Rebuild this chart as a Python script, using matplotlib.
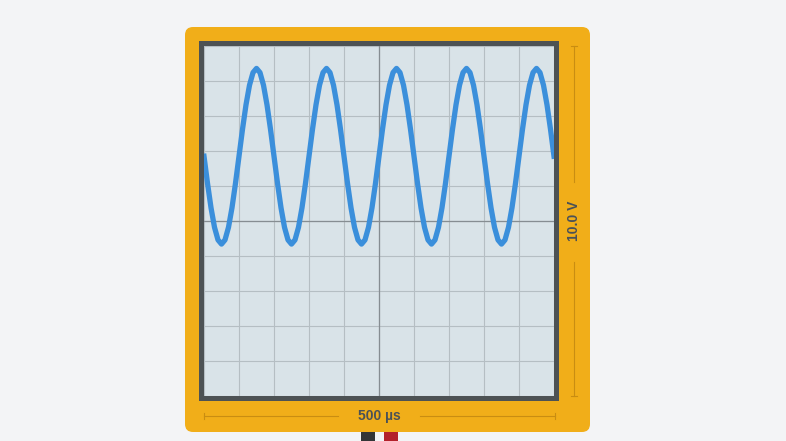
import numpy as np
import matplotlib.pyplot as plt
from matplotlib.patches import FancyBboxPatch, Rectangle

# canvas size in pixels
W, H = 786, 441

# time base / voltage span of the screen
time_span_us = 500
volt_span = 10.0
time_label = "500 µs"
volt_label = "10.0 V"

time_us = np.linspace(0, 500, 101)
volts = [
    1.85, 1.08, 0.38, -0.18, -0.54, -0.66, -0.54, -0.18, 0.38, 1.08,
    1.85, 2.62, 3.32, 3.88, 4.24, 4.36, 4.24, 3.88, 3.32, 2.62,
    1.85, 1.08, 0.38, -0.18, -0.54, -0.66, -0.54, -0.18, 0.38, 1.08,
    1.85, 2.62, 3.32, 3.88, 4.24, 4.36, 4.24, 3.88, 3.32, 2.62,
    1.85, 1.08, 0.38, -0.18, -0.54, -0.66, -0.54, -0.18, 0.38, 1.08,
    1.85, 2.62, 3.32, 3.88, 4.24, 4.36, 4.24, 3.88, 3.32, 2.62,
    1.85, 1.08, 0.38, -0.18, -0.54, -0.66, -0.54, -0.18, 0.38, 1.08,
    1.85, 2.62, 3.32, 3.88, 4.24, 4.36, 4.24, 3.88, 3.32, 2.62,
    1.85, 1.08, 0.38, -0.18, -0.54, -0.66, -0.54, -0.18, 0.38, 1.08,
    1.85, 2.62, 3.32, 3.88, 4.24, 4.36, 4.24, 3.88, 3.32, 2.62,
    1.85,
]

plt.rcParams['font.family'] = ['Liberation Sans', 'DejaVu Sans']

fig = plt.figure(figsize=(W / 100, H / 100), dpi=100)
fig.patch.set_facecolor('#f3f4f6')

# background axes in pixel units (y pointing down)
bg = fig.add_axes([0, 0, 1, 1])
bg.set_xlim(0, W)
bg.set_ylim(H, 0)
bg.axis('off')

# probes
bg.add_patch(Rectangle((361, 428), 14, 15, fc='#333537', ec='none', zorder=1))
bg.add_patch(Rectangle((384, 428), 14, 15, fc='#b3212b', ec='none', zorder=1))

# scope body
bg.add_patch(FancyBboxPatch((185, 27), 405, 405,
                            boxstyle='round,pad=0,rounding_size=8',
                            fc='#f1ae19', ec='none', zorder=2))
# screen bezel
bg.add_patch(Rectangle((199, 41), 360, 360, fc='#4d5254', ec='none', zorder=3))

# scale bars
bar_col = '#c98d12'
bg.plot([204, 338], [416, 416], color=bar_col, lw=0.8, zorder=4)
bg.plot([420, 555], [416, 416], color=bar_col, lw=0.8, zorder=4)
for x in (204, 555):
    bg.plot([x, x], [413, 419], color=bar_col, lw=0.8, zorder=4)
bg.plot([574, 574], [46, 182], color=bar_col, lw=0.8, zorder=4)
bg.plot([574, 574], [262, 396], color=bar_col, lw=0.8, zorder=4)
for y in (46, 396):
    bg.plot([571, 577], [y, y], color=bar_col, lw=0.8, zorder=4)

txt_col = '#4a5157'
bg.text(379, 416, time_label, ha='center', va='center', fontsize=10,
        fontweight='bold', color=txt_col, zorder=5)
bg.text(573.5, 221, volt_label, ha='center', va='center', fontsize=10,
        fontweight='bold', color=txt_col, rotation=90, zorder=5)

# screen
ax = fig.add_axes([204 / W, 1 - 396 / H, 350 / W, 350 / H])
ax.set_facecolor('#d9e3e8')
ax.set_xlim(0, time_span_us)
ax.set_ylim(-volt_span / 2, volt_span / 2)
ax.set_xticks(np.arange(0, time_span_us + 1, time_span_us / 10))
ax.set_yticks(np.arange(-volt_span / 2, volt_span / 2 + 0.01, volt_span / 10))
ax.grid(True, color='#b5bec3', lw=0.8)
ax.tick_params(length=0, labelbottom=False, labelleft=False)
for s in ax.spines.values():
    s.set_visible(False)
ax.axvline(time_span_us / 2, color='#868d92', lw=0.9)
ax.axhline(0, color='#868d92', lw=0.9)

ax.plot(time_us, volts, color='#3b8fdb', lw=3.8, solid_joinstyle='round', zorder=5)

fig.savefig('out.png', dpi=100, facecolor=fig.get_facecolor())
